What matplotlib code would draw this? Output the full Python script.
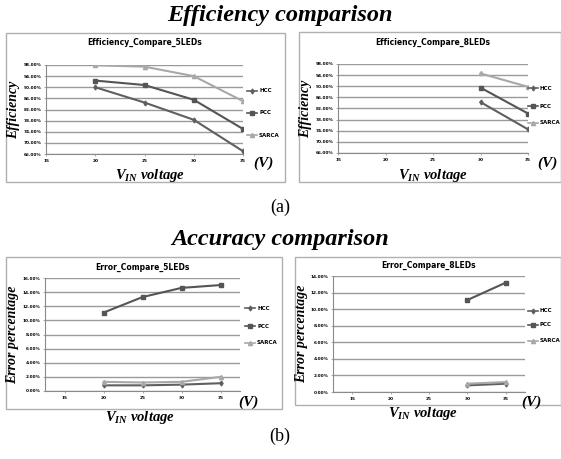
import matplotlib
matplotlib.use('Agg')
import matplotlib.pyplot as plt
from matplotlib.patches import Rectangle
from matplotlib.ticker import FuncFormatter

plt.rcParams['mathtext.fontset'] = 'custom'
plt.rcParams['mathtext.it'] = 'Liberation Serif:italic:bold'
plt.rcParams['mathtext.rm'] = 'Liberation Serif:bold'

W, H = 561, 459

# data
volt_5 = [20, 25, 30, 35]
volt_8 = [30, 35]
eff5_hcc = [0.900, 0.845, 0.783, 0.670]
eff5_pcc = [0.924, 0.908, 0.855, 0.750]
eff5_sarca = [0.979, 0.974, 0.940, 0.850]
eff8_hcc = [0.843, 0.745]
eff8_pcc = [0.895, 0.802]
eff8_sarca = [0.946, 0.898]
err5_hcc = [0.008, 0.008, 0.009, 0.011]
err5_pcc = [0.111, 0.133, 0.146, 0.150]
err5_sarca = [0.013, 0.012, 0.013, 0.020]
err8_hcc = [0.008, 0.010]
err8_pcc = [0.111, 0.132]
err8_sarca = [0.010, 0.012]
x_ticks = [15, 20, 25, 30, 35]
eff_ticks = [0.66, 0.70, 0.74, 0.78, 0.82, 0.86, 0.90, 0.94, 0.98]
err5_ticks = [0, 0.02, 0.04, 0.06, 0.08, 0.10, 0.12, 0.14, 0.16]
err8_ticks = [0, 0.02, 0.04, 0.06, 0.08, 0.10, 0.12, 0.14]
names = ['HCC', 'PCC', 'SARCA']

styles = {
    'HCC': dict(color='#5f5f5f', marker='d', ms=2.5),
    'PCC': dict(color='#555555', marker='s', ms=3),
    'SARCA': dict(color='#a8a8a8', marker='^', ms=3),
}

fig = plt.figure(figsize=(W / 100, H / 100), dpi=100)


def px_axes(x0, x1, y0, y1):
    return fig.add_axes([x0 / W, 1 - y1 / H, (x1 - x0) / W, (y1 - y0) / H])


def box(x0, x1, y0, y1):
    fig.patches.append(Rectangle((x0 / W, 1 - y1 / H), (x1 - x0) / W, (y1 - y0) / H,
                                 transform=fig.transFigure, fill=False,
                                 ec='#b0b0b0', lw=1))


def ftext(x, y, s, **kw):
    fig.text(x / W, 1 - y / H, s, ha='center', va='center', **kw)


serif_bi = dict(family='Liberation Serif', weight='bold', style='italic')


def panel(rect, xs, series, yticks, ylim, xlim, title, ylabel, title_y, leg_y, leg_x,
          ylab_x, xlab_xy, v_xy):
    x0, x1, y0, y1 = rect
    ax = px_axes(x0, x1, y0, y1)
    for name, vals in zip(names, series):
        st = styles[name]
        ax.plot(xs, vals, color=st['color'], lw=1.5, marker=st['marker'],
                ms=st['ms'], mec=st['color'], mfc=st['color'])
    ax.set_xlim(*xlim)
    ax.set_ylim(*ylim)
    ax.set_xticks(x_ticks)
    ax.set_yticks(yticks)
    ax.yaxis.set_major_formatter(FuncFormatter(lambda v, p: '%.2f%%' % (v * 100)))
    ax.tick_params(labelsize=3.1, length=1.5, width=0.5, color='#888888', pad=2)
    for lab in ax.get_xticklabels() + ax.get_yticklabels():
        lab.set_fontweight('bold')
    ax.grid(axis='y', color='#9a9a9a', lw=1)
    for s in ['top', 'right']:
        ax.spines[s].set_visible(False)
    for s in ['left', 'bottom']:
        ax.spines[s].set_color('#8a8a8a')
        ax.spines[s].set_linewidth(0.8)
    ax.set_axisbelow(True)
    ax.patch.set_alpha(0)
    ftext((x0 + x1) / 2, title_y, title, fontsize=5.5, weight='bold', family='DejaVu Sans')
    for name, ly in zip(names, leg_y):
        st = styles[name]
        fig.lines.append(plt.Line2D([leg_x / W, (leg_x + 10) / W], [1 - ly / H, 1 - ly / H],
                                    transform=fig.transFigure, color=st['color'], lw=1.2))
        fig.lines.append(plt.Line2D([(leg_x + 5) / W], [1 - ly / H], transform=fig.transFigure,
                                    color=st['color'], marker=st['marker'], ms=st['ms']))
        fig.text((leg_x + 12) / W, 1 - ly / H, name, fontsize=4.0, weight='bold',
                 va='center', ha='left', family='DejaVu Sans')
    ftext(ylab_x, (y0 + y1) / 2, ylabel, rotation=90, fontsize=10, **serif_bi)
    ftext(xlab_xy[0], xlab_xy[1], r'$V_{IN}$ voltage', fontsize=10.5, **serif_bi)
    ftext(v_xy[0], v_xy[1], '(V)', fontsize=11, **serif_bi)
    return ax


# frames
box(6, 285, 33, 182)
box(299, 561, 32, 182)
box(6, 282, 257, 409)
box(295, 561, 257, 405)

ftext(280, 15, 'Efficiency comparison', fontsize=17.5, **serif_bi)
ftext(280, 207, '(a)', fontsize=13, family='Liberation Serif')
ftext(280, 240, 'Accuracy comparison', fontsize=17.5, **serif_bi)
ftext(280, 436, '(b)', fontsize=13, family='Liberation Serif')

panel((46, 243, 65, 154), volt_5, [eff5_hcc, eff5_pcc, eff5_sarca], eff_ticks,
      (0.66, 0.98), (15, 35), 'Efficiency_Compare_5LEDs', 'Efficiency', 42,
      [91, 113, 135], 247, 14, (150, 175), (263, 163))
panel((338, 528, 64, 153), volt_8, [eff8_hcc, eff8_pcc, eff8_sarca], eff_ticks,
      (0.66, 0.98), (15, 35), 'Efficiency_Compare_8LEDs', 'Efficiency', 42,
      [88, 106, 123], 528, 306, (433, 175), (547, 163))
panel((45, 240, 278, 391), volt_5, [err5_hcc, err5_pcc, err5_sarca], err5_ticks,
      (0, 0.16), (12.5, 37.5), 'Error_Compare_5LEDs', 'Error percentage', 267,
      [308, 326, 343], 245, 13, (140, 418), (248, 402))
panel((333, 525, 276, 392), volt_8, [err8_hcc, err8_pcc, err8_sarca], err8_ticks,
      (0, 0.14), (12.5, 37.5), 'Error_Compare_8LEDs', 'Error percentage', 265,
      [311, 325, 341], 528, 302, (423, 414), (531, 402))

fig.savefig('out.png', dpi=100)
